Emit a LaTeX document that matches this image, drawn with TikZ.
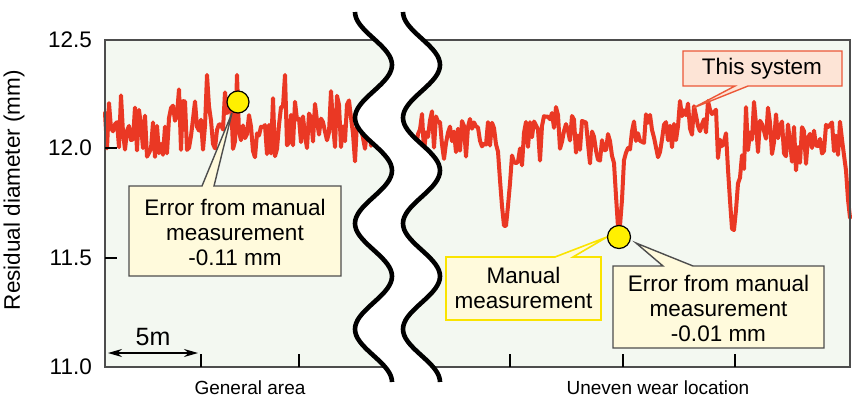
\documentclass[tikz,border=0pt]{standalone}
\usepackage{fontspec}
\setmainfont{Liberation Sans}
\usetikzlibrary{arrows.meta}
\definecolor{bggreen}{RGB}{243,248,241}
\definecolor{datared}{RGB}{234,56,36}
\definecolor{frameg}{RGB}{77,77,77}
\definecolor{calloutfill}{RGB}{255,250,220}
\definecolor{sysfill}{RGB}{253,228,214}
\definecolor{sysborder}{RGB}{236,88,56}
\definecolor{manborder}{RGB}{250,228,0}
\definecolor{dotyellow}{RGB}{255,240,0}
\begin{document}
\begin{tikzpicture}[x=1pt,y=-1pt,
  declare function={G(\u,\v,\w)=exp(-1*(min(abs(\u-\v)/\w,3))^2);
    SL(\u)=G(\u,207,1)+G(\u,237,1)+G(\u,285,1);
    SR(\u)=G(\u,680,1)+G(\u,746,1)+G(\u,754,1);
    DR(\u)=G(\u,505,6)+G(\u,619,6)+G(\u,733,6)+G(\u,850,6);},
  dataline/.style={draw=datared,line width=4pt,line join=round,line cap=round},
  wavy/.style={draw=black,line width=4.6pt},
  framel/.style={draw=frameg,line width=1.6pt},
  tickl/.style={draw=black,line width=1.3pt},
  ticklab/.style={font=\fontsize{22.5}{25}\selectfont,inner sep=0pt},
  ctext/.style={font=\fontsize{22.5}{25}\selectfont,align=center,inner sep=0pt},
  xlab/.style={font=\fontsize{19}{22}\selectfont,inner sep=0pt},
  errbox/.style={fill=calloutfill,draw=frameg,line width=1.4pt,line join=miter},
  sysbox/.style={fill=sysfill,draw=sysborder,line width=1.4pt},
  manbox/.style={fill=calloutfill,draw=manborder,line width=1.6pt},
  dot/.style={circle,fill=dotyellow,draw=black,line width=1.2pt,minimum size=22pt,inner sep=0pt}
]
\useasboundingbox (0,0) rectangle (868,407);
% plot background
\fill[bggreen] (105,40) rectangle (850,367);
% data
\pgfmathsetseed{20240}
\draw[dataline] plot[domain=105:375,samples=136]
  (\x,{(1-SL(\x))*(126+8*G(\x,365,30)+6*sin(3*\x)+5*sin(7.3*\x+40)+29*rand+10*rand^3)+SL(\x)*75});
\draw[dataline] plot[domain=412:850,samples=220]
  (\x,{(1-SR(\x))*(137-14*G(\x,690,40)+6*G(\x,800,40)+5*sin(5*\x)+(20*rand+10*rand^3)*(1-DR(\x)))+SR(\x)*101
   +72*G(\x,505,4.5)+20*G(\x,505,12)
   +78*G(\x,619,4)+20*G(\x,619,12)
   +76*G(\x,733,4.5)+20*G(\x,733,12)
   +84*G(\x,850,4)});
% frame
\draw[framel] (105,40) rectangle (850,367);
% ticks
\foreach \yy in {148,258} \draw[tickl] (105,\yy) -- (117,\yy);
\foreach \xx in {201,299,510,623,735} \draw[tickl] (\xx,367) -- (\xx,354);
% break band
\fill[white] plot[domain=12:382,samples=120,smooth] ({373.5-18.5*cos(3.4054*(\x-12))},\x)
  -- plot[domain=382:12,samples=120,smooth] ({421.5-18.5*cos(3.4054*(\x-12))},\x) -- cycle;
\draw[wavy] plot[domain=12:382,samples=120,smooth] ({373.5-18.5*cos(3.4054*(\x-12))},\x);
\draw[wavy] plot[domain=12:382,samples=120,smooth] ({421.5-18.5*cos(3.4054*(\x-12))},\x);
% tick labels
\node[ticklab,anchor=east] (t125) at (92,40) {12.5};
\node[ticklab,anchor=east] (t120) at (92,148) {12.0};
\node[ticklab,anchor=east] (t115) at (92,258) {11.5};
\node[ticklab,anchor=east] (t110) at (92,367) {11.0};
\node[ticklab,rotate=90] (ylab) at (14,190) {Residual diameter (mm)};
\node[xlab] (xl1) at (250,388) {General area};
\node[xlab] (xl2) at (658,388) {Uneven wear location};
% 5 m scale
\coordinate (a5l) at (108,353);
\coordinate (a5r) at (198,353);
\draw[{Stealth[length=14pt,width=8pt]}-{Stealth[length=14pt,width=8pt]},line width=1.5pt] (a5l) -- (a5r);
\node[font=\fontsize{25}{28}\selectfont,inner sep=0pt] (five) at (153,337) {5m};
% callouts
\draw[errbox] (129,186) -- (202,186) -- (232,113) -- (214,186) -- (341,186) -- (341,276) -- (129,276) -- cycle;
\draw[sysbox] (683,51) -- (842,51) -- (842,86) -- (748,86) -- (693,108) -- (735,86) -- (683,86) -- cycle;
\draw[manbox] (446,257) -- (555,257) -- (607,237) -- (573,257) -- (601,257) -- (601,320) -- (446,320) -- cycle;
\draw[errbox] (613,266) -- (663,266) -- (636,243) -- (693,266) -- (824,266) -- (824,348) -- (613,348) -- cycle;
% points
\node[dot] (p1) at (238,102) {};
\node[dot,minimum size=23pt] (p2) at (619,237) {};
% callout texts
\node[ctext] (c1) at (235,232) {Error from manual\\measurement\\-0.11 mm};
\node[ctext] (c2) at (762,68.5) {This system};
\node[ctext] (c3) at (523.5,288) {Manual\\measurement};
\node[ctext] (c4) at (718.5,308) {Error from manual\\measurement\\-0.01 mm};
\end{tikzpicture}
\end{document}
